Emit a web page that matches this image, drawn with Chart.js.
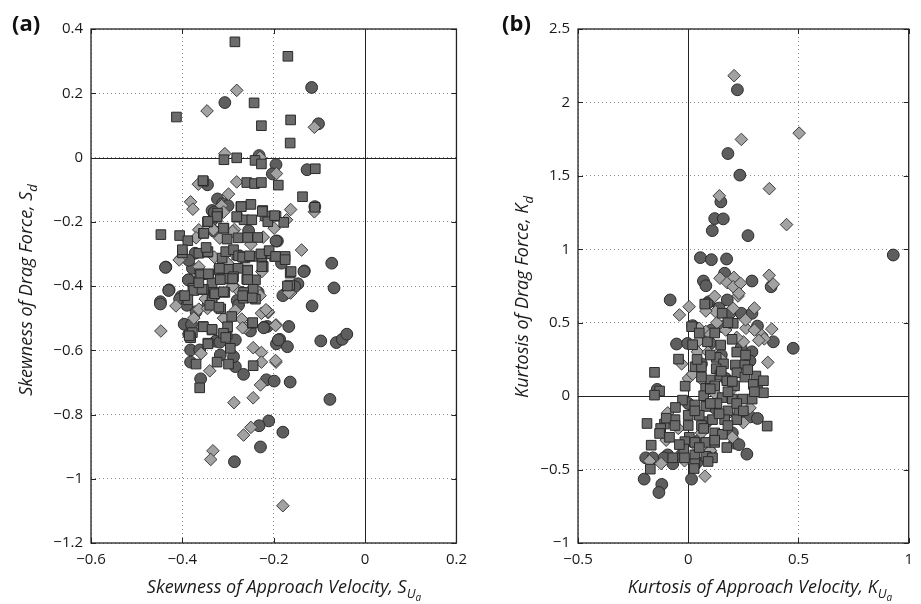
<!DOCTYPE html>
<html lang="en">
<head>
<meta charset="UTF-8">
<title>skewness / kurtosis scatter</title>
<script src="https://cdn.jsdelivr.net/npm/chart.js"></script>
<style>
  body { margin: 0; background: #fff; }
  .panel { position: absolute; top: 0; height: 604px; }
  #boxA { left: 0; width: 475px; }
  #boxB { left: 475px; width: 446px; }
</style>
</head>
<body>

<div class="panel" id="boxA"><canvas id="chartA"></canvas></div>
<div class="panel" id="boxB"><canvas id="chartB"></canvas></div>

<script>
// ---- data: panel (a) skewness, [S_Ua, S_d] ----
const aCircles = [[-0.117,0.218],[-0.307,0.171],[-0.102,0.105],[-0.232,0.006],[-0.195,-0.022],[-0.203,-0.051],[-0.127,-0.038],[-0.345,-0.085],[-0.110,-0.153],[-0.323,-0.129],[-0.312,-0.144],[-0.335,-0.165],[-0.335,-0.195],[-0.255,-0.228],[-0.192,-0.26],[-0.073,-0.329],[-0.133,-0.353],[-0.068,-0.406],[-0.436,-0.341],[-0.429,-0.412],[-0.147,-0.393],[-0.172,-0.422],[-0.183,-0.329],[-0.372,-0.298],[-0.378,-0.345],[-0.385,-0.381],[-0.403,-0.433],[-0.27,-0.42],[-0.234,-0.42],[-0.448,-0.449],[-0.448,-0.456],[-0.116,-0.462],[-0.396,-0.519],[-0.386,-0.55],[-0.345,-0.464],[-0.28,-0.445],[-0.167,-0.526],[-0.214,-0.526],[-0.251,-0.54],[-0.187,-0.566],[-0.194,-0.58],[-0.17,-0.589],[-0.097,-0.571],[-0.063,-0.576],[-0.05,-0.566],[-0.04,-0.55],[-0.382,-0.599],[-0.362,-0.599],[-0.327,-0.572],[-0.317,-0.615],[-0.382,-0.637],[-0.284,-0.651],[-0.266,-0.675],[-0.36,-0.689],[-0.216,-0.692],[-0.199,-0.696],[-0.164,-0.699],[-0.077,-0.753],[-0.211,-0.82],[-0.232,-0.835],[-0.18,-0.855],[-0.229,-0.901],[-0.286,-0.947],[-0.387,-0.381],[-0.406,-0.441],[-0.277,-0.459],[-0.37,-0.48],[-0.284,-0.568],[-0.318,-0.575],[-0.221,-0.528],[-0.19,-0.568],[-0.288,-0.62],[-0.3,-0.15],[-0.33,-0.17],[-0.33,-0.23],[-0.195,-0.26],[-0.386,-0.32],[-0.134,-0.355],[-0.154,-0.402],[-0.18,-0.43],[-0.437,-0.342],[-0.43,-0.414],[-0.39,-0.46],[-0.222,-0.53],[-0.38,-0.52]];
const aSquares = [[-0.285,0.36],[-0.169,0.315],[-0.243,0.17],[-0.413,0.126],[-0.163,0.117],[-0.227,0.099],[-0.164,0.045],[-0.309,-0.007],[-0.281,-0.001],[-0.241,-0.009],[-0.227,-0.02],[-0.109,-0.035],[-0.19,-0.086],[-0.354,-0.074],[-0.259,-0.078],[-0.242,-0.081],[-0.227,-0.078],[-0.137,-0.122],[-0.11,-0.155],[-0.25,-0.146],[-0.272,-0.153],[-0.323,-0.173],[-0.224,-0.165],[-0.219,-0.182],[-0.195,-0.183],[-0.178,-0.202],[-0.28,-0.186],[-0.265,-0.194],[-0.248,-0.194],[-0.213,-0.2],[-0.324,-0.186],[-0.345,-0.201],[-0.354,-0.236],[-0.309,-0.22],[-0.447,-0.24],[-0.406,-0.243],[-0.388,-0.259],[-0.302,-0.254],[-0.278,-0.25],[-0.257,-0.249],[-0.235,-0.249],[-0.165,-0.397],[-0.164,-0.36],[-0.175,-0.308],[-0.198,-0.308],[-0.212,-0.3],[-0.226,-0.308],[-0.223,-0.339],[-0.364,-0.298],[-0.345,-0.295],[-0.313,-0.313],[-0.281,-0.303],[-0.263,-0.313],[-0.247,-0.308],[-0.4,-0.297],[-0.362,-0.362],[-0.342,-0.364],[-0.32,-0.35],[-0.299,-0.348],[-0.278,-0.345],[-0.257,-0.35],[-0.24,-0.381],[-0.313,-0.378],[-0.293,-0.378],[-0.335,-0.39],[-0.377,-0.407],[-0.354,-0.411],[-0.332,-0.42],[-0.245,-0.41],[-0.382,-0.558],[-0.378,-0.545],[-0.355,-0.526],[-0.335,-0.537],[-0.302,-0.55],[-0.301,-0.527],[-0.335,-0.444],[-0.247,-0.516],[-0.344,-0.578],[-0.295,-0.594],[-0.37,-0.643],[-0.324,-0.637],[-0.299,-0.643],[-0.245,-0.648],[-0.362,-0.717],[-0.36,-0.365],[-0.31,-0.376],[-0.288,-0.371],[-0.259,-0.379],[-0.375,-0.414],[-0.357,-0.41],[-0.33,-0.426],[-0.307,-0.42],[-0.266,-0.42],[-0.266,-0.438],[-0.24,-0.441],[-0.388,-0.443],[-0.335,-0.45],[-0.316,-0.471],[-0.292,-0.495],[-0.246,-0.514],[-0.354,-0.527],[-0.335,-0.535],[-0.382,-0.561],[-0.344,-0.58],[-0.355,-0.072],[-0.271,-0.153],[-0.324,-0.184],[-0.344,-0.199],[-0.281,-0.184],[-0.225,-0.168],[-0.198,-0.181],[-0.31,-0.22],[-0.353,-0.236],[-0.4,-0.287],[-0.344,-0.293],[-0.348,-0.28],[-0.305,-0.293],[-0.288,-0.287],[-0.277,-0.306],[-0.268,-0.31],[-0.253,-0.306],[-0.228,-0.3],[-0.21,-0.29],[-0.196,-0.308],[-0.175,-0.318],[-0.162,-0.355],[-0.17,-0.4],[-0.343,-0.362],[-0.364,-0.39],[-0.319,-0.345],[-0.317,-0.38],[-0.29,-0.377],[-0.257,-0.352],[-0.257,-0.38],[-0.226,-0.34],[-0.329,-0.424],[-0.31,-0.418],[-0.268,-0.43],[-0.247,-0.437],[-0.395,-0.43],[-0.34,-0.46],[-0.32,-0.466],[-0.31,-0.547],[-0.305,-0.56],[-0.385,-0.555]];
const aDiamonds = [[-0.281,0.209],[-0.346,0.145],[-0.111,0.094],[-0.307,0.012],[-0.23,0.0],[-0.194,-0.05],[-0.365,-0.083],[-0.281,-0.076],[-0.111,-0.169],[-0.382,-0.138],[-0.377,-0.161],[-0.299,-0.114],[-0.163,-0.162],[-0.172,-0.194],[-0.332,-0.225],[-0.364,-0.225],[-0.286,-0.224],[-0.199,-0.22],[-0.37,-0.25],[-0.318,-0.251],[-0.223,-0.248],[-0.139,-0.288],[-0.163,-0.422],[-0.403,-0.313],[-0.364,-0.34],[-0.28,-0.41],[-0.414,-0.462],[-0.447,-0.54],[-0.212,-0.483],[-0.195,-0.521],[-0.262,-0.53],[-0.359,-0.61],[-0.245,-0.592],[-0.227,-0.607],[-0.227,-0.637],[-0.195,-0.637],[-0.34,-0.664],[-0.229,-0.708],[-0.287,-0.763],[-0.245,-0.748],[-0.25,-0.84],[-0.266,-0.864],[-0.333,-0.913],[-0.338,-0.94],[-0.18,-1.084],[-0.24,-0.41],[-0.364,-0.472],[-0.345,-0.47],[-0.27,-0.503],[-0.227,-0.485],[-0.212,-0.48],[-0.196,-0.523],[-0.268,-0.53],[-0.196,-0.632],[-0.314,-0.15],[-0.31,-0.17],[-0.29,-0.23],[-0.407,-0.319],[-0.226,-0.355],[-0.167,-0.42],[-0.284,-0.476],[-0.217,-0.474],[-0.3,-0.33],[-0.33,-0.31],[-0.35,-0.44],[-0.25,-0.27],[-0.29,-0.4],[-0.31,-0.5],[-0.375,-0.5],[-0.23,-0.43]];

// ---- data: panel (b) kurtosis, [K_Ua, K_d] ----
const bCircles = [[0.223,2.086],[0.18,1.652],[0.234,1.505],[0.148,1.323],[0.12,1.209],[0.159,1.207],[0.109,1.127],[0.271,1.093],[0.93,0.961],[0.055,0.943],[0.105,0.929],[0.174,0.934],[0.069,0.784],[0.08,0.752],[0.165,0.837],[0.289,0.784],[0.376,0.745],[-0.082,0.655],[0.094,0.643],[0.177,0.655],[0.085,0.63],[0.19,0.567],[0.241,0.564],[0.289,0.564],[0.154,0.473],[0.105,0.45],[0.314,0.477],[0.386,0.37],[0.476,0.326],[-0.053,0.355],[-0.003,0.359],[0.289,0.302],[-0.141,0.046],[0.282,-0.141],[0.314,-0.152],[0.21,-0.32],[0.266,-0.395],[-0.193,-0.42],[-0.16,-0.42],[-0.093,-0.4],[-0.07,-0.46],[-0.2,-0.565],[0.015,-0.565],[-0.12,-0.601],[-0.133,-0.656],[0.02,0.48],[0.1,0.36],[0.15,0.28],[0.24,0.33],[0.28,0.24],[0.06,0.22],[0.0,-0.05],[0.12,-0.08],[0.2,-0.25],[0.23,-0.33],[0.05,-0.3],[-0.03,-0.4],[0.08,-0.18],[0.17,0.12],[0.31,0.06],[0.04,-0.45],[0.1,-0.38],[-0.11,-0.42],[0.14,0.6]];
const bSquares = [[0.075,0.627],[0.154,0.564],[0.204,0.496],[0.015,0.473],[0.087,0.37],[0.147,0.348],[0.199,0.387],[-0.044,0.252],[0.127,0.264],[0.16,0.22],[0.031,0.2],[0.06,0.2],[0.127,0.187],[0.214,0.212],[0.257,0.212],[-0.153,0.162],[0.1,0.11],[0.144,0.143],[0.175,0.105],[0.221,0.159],[0.257,0.13],[0.307,0.137],[0.341,0.105],[-0.014,0.068],[0.079,0.053],[0.12,0.07],[0.21,0.07],[0.295,0.08],[0.341,0.023],[-0.13,0.035],[-0.153,0.007],[0.07,0.003],[0.154,-0.01],[0.2,-0.02],[0.247,-0.02],[0.29,-0.02],[-0.026,-0.027],[0.03,-0.06],[-0.058,-0.077],[0.08,-0.07],[0.13,-0.05],[0.18,-0.1],[0.23,-0.11],[0.0,-0.13],[0.05,-0.13],[0.22,-0.16],[-0.187,-0.186],[-0.108,-0.19],[-0.06,-0.16],[0.06,-0.2],[0.11,-0.16],[0.165,-0.16],[0.358,-0.204],[-0.125,-0.22],[-0.13,-0.254],[-0.085,-0.28],[0.005,-0.28],[0.12,-0.25],[0.155,-0.26],[-0.015,-0.31],[0.03,-0.315],[0.08,-0.315],[0.12,-0.315],[-0.168,-0.334],[0.175,-0.35],[-0.02,-0.36],[0.03,-0.4],[0.08,-0.41],[0.11,-0.42],[-0.07,-0.42],[-0.017,-0.42],[0.03,-0.46],[0.09,-0.445],[-0.172,-0.497],[0.027,-0.493],[0.02,0.35],[0.05,0.43],[0.12,0.43],[0.18,0.5],[0.22,0.3],[0.26,0.28],[0.1,0.28],[0.04,0.25],[0.15,0.17],[0.2,0.1],[0.27,0.18],[0.3,0.03],[0.22,-0.05],[0.1,-0.05],[0.03,-0.1],[0.14,-0.12],[0.18,-0.2],[0.07,-0.22],[0.0,-0.2],[0.12,-0.3],[0.05,-0.35],[-0.04,-0.33],[-0.1,-0.15],[-0.06,-0.2],[0.25,-0.1],[0.1,0.05],[0.06,0.13],[0.18,0.03]];
const bDiamonds = [[0.208,2.182],[0.503,1.791],[0.241,1.748],[0.368,1.413],[0.141,1.364],[0.446,1.168],[0.144,0.803],[0.177,0.773],[0.207,0.809],[0.204,0.745],[0.237,0.769],[0.367,0.823],[0.386,0.762],[0.226,0.682],[0.004,0.609],[-0.04,0.553],[0.204,0.598],[0.124,0.575],[0.05,0.462],[0.08,0.44],[0.262,0.462],[0.379,0.457],[0.334,0.416],[0.345,0.39],[0.042,0.302],[0.25,0.37],[0.361,0.23],[-0.03,0.22],[0.0,0.12],[-0.093,-0.114],[-0.045,-0.22],[0.2,-0.28],[0.035,-0.34],[0.1,-0.37],[-0.175,-0.441],[-0.123,-0.459],[-0.017,-0.44],[0.076,-0.545],[0.05,0.38],[0.1,0.42],[0.13,0.5],[0.17,0.45],[0.22,0.4],[0.26,0.52],[0.3,0.45],[0.09,0.3],[0.02,0.15],[0.07,0.1],[0.12,0.02],[0.18,-0.12],[0.25,-0.18],[0.06,-0.25],[-0.1,-0.3],[0.15,0.25],[0.32,0.38],[0.2,0.05],[0.28,-0.08],[0.1,-0.42],[0.23,0.7],[0.3,0.6],[0.12,0.68],[0.08,0.58]];

// axis ranges / ticks
const aXRange = [-0.6, 0.2], aYRange = [-1.2, 0.4], aStep = 0.2;
const bXRange = [-0.5, 1.0], bYRange = [-1.0, 2.5], bStep = 0.5;

const FONT = "'Open Sans', 'DejaVu Sans', sans-serif";

// tick text with a real minus sign, like the original
function tickText(v) {
    const r = Math.round(v * 10) / 10;
    if (r === 0) return '0';
    return String(r).replace('-', '\u2212');
}

// italic label + symbol with subscript (and sub-subscript)
function drawLabel(ctx, parts, cx, cy, rotated) {
    ctx.save();
    ctx.translate(cx, cy);
    if (rotated) ctx.rotate(-Math.PI / 2);
    ctx.fillStyle = '#1a1a1a';
    ctx.textBaseline = 'alphabetic';
    ctx.textAlign = 'left';
    const fonts = [`italic 18px ${FONT}`, `italic 13px ${FONT}`, `italic 10px ${FONT}`];
    const drops = [0, 5, 8];
    let total = 0;
    parts.forEach(p => { ctx.font = fonts[p[1]]; total += ctx.measureText(p[0]).width; });
    let x = -total / 2;
    parts.forEach(p => {
        ctx.font = fonts[p[1]];
        ctx.fillText(p[0], x, drops[p[1]]);
        x += ctx.measureText(p[0]).width;
    });
    ctx.restore();
}

// frame, zero lines, inward ticks, titles, panel letter
const panelDecor = {
    id: 'panelDecor',
    beforeDatasetsDraw(chart) {
        const { ctx, chartArea: a, scales: { x, y } } = chart;
        const x0 = Math.round(x.getPixelForValue(0)) + 0.5;
        const y0 = Math.round(y.getPixelForValue(0)) + 0.5;
        ctx.save();
        ctx.strokeStyle = '#222';
        ctx.lineWidth = 1;
        ctx.beginPath();
        ctx.moveTo(x0, a.top); ctx.lineTo(x0, a.bottom);
        ctx.moveTo(a.left, y0); ctx.lineTo(a.right, y0);
        ctx.stroke();
        ctx.restore();
    },
    afterDraw(chart, args, opts) {
        const { ctx, chartArea: a, scales: { x, y } } = chart;
        ctx.save();
        ctx.strokeStyle = '#222';
        ctx.lineWidth = 1.3;
        ctx.strokeRect(a.left, a.top, a.right - a.left, a.bottom - a.top);
        ctx.lineWidth = 1;
        ctx.beginPath();
        x.ticks.forEach(t => {
            const px = Math.round(x.getPixelForValue(t.value)) + 0.5;
            ctx.moveTo(px, a.bottom); ctx.lineTo(px, a.bottom - 5);
            ctx.moveTo(px, a.top); ctx.lineTo(px, a.top + 5);
        });
        y.ticks.forEach(t => {
            const py = Math.round(y.getPixelForValue(t.value)) + 0.5;
            ctx.moveTo(a.left, py); ctx.lineTo(a.left + 5, py);
            ctx.moveTo(a.right, py); ctx.lineTo(a.right - 5, py);
        });
        ctx.stroke();

        ctx.fillStyle = '#111';
        ctx.font = `bold 22px ${FONT}`;
        ctx.textBaseline = 'alphabetic';
        ctx.textAlign = 'left';
        ctx.fillText(opts.letter, opts.letterX, 31);
        ctx.restore();

        drawLabel(ctx, opts.xTitle, opts.xTitleX, 593, false);
        drawLabel(ctx, opts.yTitle, opts.yTitleX, opts.yTitleY, true);
    }
};

function scatterSet(points, style, radius, fill, border) {
    return {
        data: points.map(p => ({ x: p[0], y: p[1] })),
        pointStyle: style,
        pointRadius: radius,
        pointHoverRadius: radius,
        pointBackgroundColor: fill,
        pointBorderColor: border,
        pointBorderWidth: 1
    };
}

function axisOpts(range, step, fix) {
    return {
        type: 'linear',
        min: range[0],
        max: range[1],
        afterFit: fix,
        grid: { color: '#8c8c8c', lineWidth: 1, drawTicks: false },
        border: { display: false, dash: [1, 3] },
        ticks: {
            stepSize: step,
            padding: 8,
            color: '#1a1a1a',
            font: { family: FONT, size: 15 },
            callback: v => tickText(v)
        }
    };
}

function makePanel(id, sets, xr, yr, step, yWidth, padRight, deco) {
    return new Chart(document.getElementById(id), {
        type: 'scatter',
        data: {
            // first dataset ends up on top: squares, then diamonds, then circles
            datasets: [
                scatterSet(sets[1], 'rect', 6.8, '#6b6b6b', '#2a2a2a'),
                scatterSet(sets[2], 'rectRot', 6.3, '#a2a2a2', '#3c3c3c'),
                scatterSet(sets[0], 'circle', 5.9, '#5e5e5e', '#2a2a2a')
            ]
        },
        options: {
            responsive: true,
            maintainAspectRatio: false,
            animation: false,
            layout: { padding: { left: 0, top: 29, right: padRight, bottom: 0 } },
            plugins: { legend: { display: false }, tooltip: { enabled: false }, panelDecor: deco },
            scales: {
                x: axisOpts(xr, step, s => { s.height = 61; }),
                y: axisOpts(yr, step, s => { s.width = yWidth; })
            }
        },
        plugins: [panelDecor]
    });
}

makePanel('chartA', [aCircles, aSquares, aDiamonds], aXRange, aYRange, aStep, 91, 15, {
    letter: '(a)', letterX: 12,
    xTitle: [['Skewness of Approach Velocity, S', 0], ['U', 1], ['a', 2]], xTitleX: 284,
    yTitle: [['Skewness of Drag Force, S', 0], ['d', 1]], yTitleX: 32, yTitleY: 290
});

makePanel('chartB', [bCircles, bSquares, bDiamonds], bXRange, bYRange, bStep, 103, 9, {
    letter: '(b)', letterX: 27,
    xTitle: [['Kurtosis of Approach Velocity, K', 0], ['U', 1], ['a', 2]], xTitleX: 285,
    yTitle: [['Kurtosis of Drag Force, K', 0], ['d', 1]], yTitleX: 53, yTitleY: 297
});
</script>
</body>
</html>
